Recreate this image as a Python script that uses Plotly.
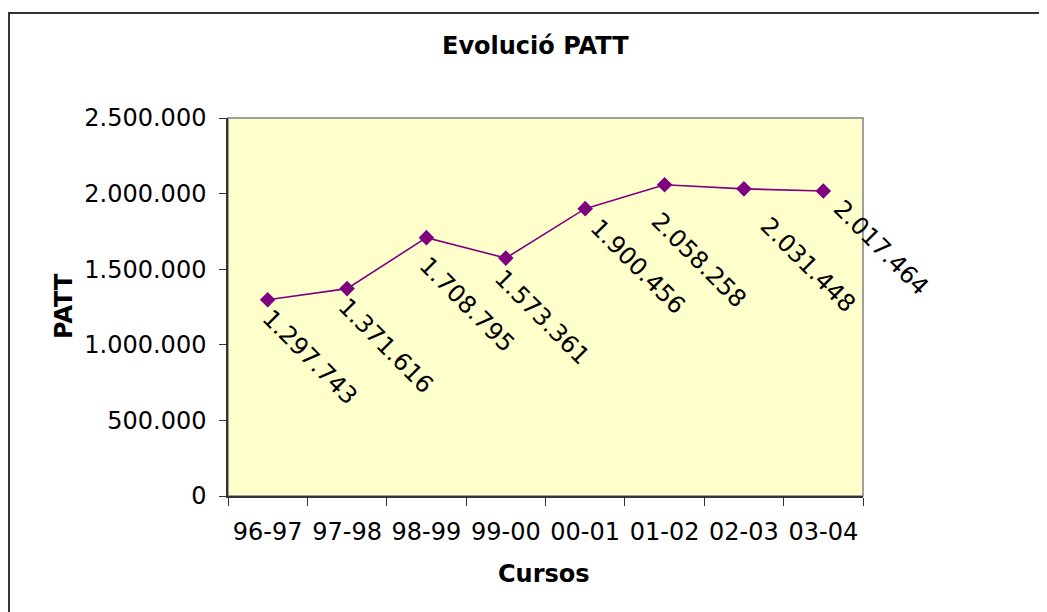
import plotly.graph_objects as go

cursos = ["96-97", "97-98", "98-99", "99-00", "00-01", "01-02", "02-03", "03-04"]
patt = [1297743, 1371616, 1708795, 1573361, 1900456, 2058258, 2031448, 2017464]
ytick_vals = [0, 500000, 1000000, 1500000, 2000000, 2500000]

# label placement (pixel offsets of the rotated label centre from its point)
label_dx = [42, 39, 41, 36, 53, 34, 64, 58]
label_dy = [57, 57, 67, 59, 58, 75, 76, 57]

FONT = "DejaVu Sans, Verdana, sans-serif"
OFF = 8  # page body margin
W, H = 1047 - OFF, 612 - OFF
# plot-area edges in page pixels (as measured on the reference)
PL, PR, PT, PB = 228, 863, 118, 496
L, R, T, B = PL - OFF, PR - OFF, PT - OFF, PB - OFF


def px(x):
    return (x - PL) / (PR - PL)


def py(y):
    return (PB - y) / (PB - PT)


def fmt(v):
    return f"{v:,}".replace(",", ".")


fig = go.Figure()
fig.add_trace(go.Scatter(
    x=cursos, y=patt, mode="lines+markers",
    line=dict(color="#800080", width=1.6),
    marker=dict(symbol="diamond", size=12, color="#800080"),
    hoverinfo="skip",
))

annotations = []
for c, v, dx, dy in zip(cursos, patt, label_dx, label_dy):
    annotations.append(dict(
        x=c, y=v, xref="x", yref="y", text=fmt(v), textangle=45,
        xanchor="center", yanchor="middle",
        showarrow=False, xshift=dx, yshift=-dy,
        font=dict(family=FONT, size=24, color="black"),
    ))

annotations += [
    dict(x=px(535), y=py(46), xref="paper", yref="paper", text="<b>Evolució PATT</b>",
         xanchor="center", yanchor="middle",
         showarrow=False, font=dict(family=FONT, size=24, color="black")),
    dict(x=px(544), y=py(574), xref="paper", yref="paper", text="<b>Cursos</b>",
         xanchor="center", yanchor="middle",
         showarrow=False, font=dict(family=FONT, size=24, color="black")),
    dict(x=px(64), y=py(306), xref="paper", yref="paper", text="<b>PATT</b>", textangle=-90,
         xanchor="center", yanchor="middle",
         showarrow=False, font=dict(family=FONT, size=24, color="black")),
]

shapes = [
    dict(type="rect", xref="paper", yref="paper", x0=0, x1=1, y0=0, y1=1,
         line=dict(color="#808080", width=1.5), layer="below"),
    dict(type="rect", xref="paper", yref="paper", x0=px(9), x1=px(1070), y0=py(13), y1=py(640),
         line=dict(color="#333333", width=2), fillcolor="rgba(0,0,0,0)"),
]

fig.update_layout(
    width=W, height=H,
    margin=dict(l=L, r=W - R, t=T, b=H - B),
    paper_bgcolor="white", plot_bgcolor="#FFFFCC",
    showlegend=False,
    annotations=annotations,
    shapes=shapes,
    font=dict(family=FONT, size=24, color="black"),
)
fig.update_xaxes(
    type="category", showgrid=False, zeroline=False,
    showline=True, linecolor="#333333", linewidth=1.5,
    ticks="outside", ticklen=8, tickcolor="#333333", tickson="boundaries",
    ticklabelstandoff=13,
    tickfont=dict(family=FONT, size=24, color="black"),
    range=[-0.5, 7.5],
)
fig.update_yaxes(
    range=[0, 2500000], tickvals=ytick_vals, ticktext=[fmt(v) for v in ytick_vals],
    showgrid=False, zeroline=False,
    showline=True, linecolor="#333333", linewidth=1.5,
    ticks="outside", ticklen=7, tickcolor="#333333",
    ticklabelstandoff=8,
    tickfont=dict(family=FONT, size=24, color="black"),
)

fig.write_html("out.html")
